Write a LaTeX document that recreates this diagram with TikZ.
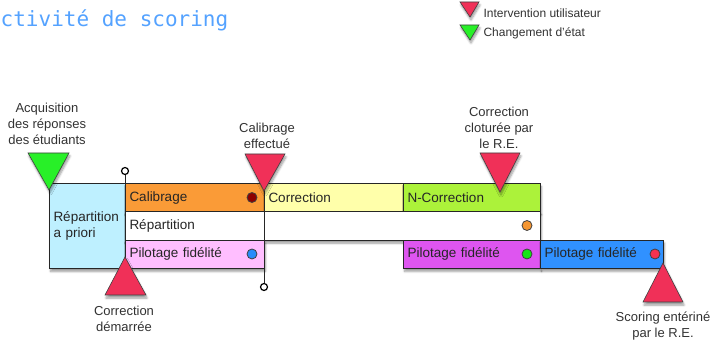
\documentclass[tikz,border=0pt]{standalone}
\usepackage{fontspec}
\setmainfont{Liberation Sans}
\newfontfamily\titlefont{DejaVu Sans Mono}
\usetikzlibrary{shadows.blur}
\definecolor{titleblue}{RGB}{84,162,255}
\definecolor{boxcyan}{RGB}{190,240,255}
\definecolor{calibor}{RGB}{250,155,55}
\definecolor{corryel}{RGB}{255,255,170}
\definecolor{ncorrgreen}{RGB}{172,242,58}
\definecolor{pilpink}{RGB}{255,190,255}
\definecolor{pilmag}{RGB}{222,85,240}
\definecolor{pilblue}{RGB}{48,145,255}
\definecolor{trired}{RGB}{240,48,88}
\definecolor{trigreen}{RGB}{40,240,40}
\definecolor{labgray}{RGB}{50,50,50}
\definecolor{dotred}{RGB}{140,0,0}
\definecolor{dotorange}{RGB}{245,150,50}
\definecolor{dotblue}{RGB}{40,140,250}
\definecolor{dotgreen}{RGB}{20,230,20}
\definecolor{dotpink}{RGB}{245,50,80}
\begin{document}
\begin{tikzpicture}[x=1pt,y=-1pt,
  shad/.style={blur shadow={shadow xshift=1pt, shadow yshift=-3pt, shadow blur steps=6, shadow opacity=40}},
  tbox/.style={draw=black!85, line width=1pt, inner xsep=4pt, inner ysep=0pt,
    minimum height=28.3pt, anchor=north west, align=left, text=black!85,
    font=\fontsize{13.5}{16}\selectfont, shad},
  tri/.style={draw=black!75, line width=0.6pt, shad},
  dot/.style={circle, draw=black!75, line width=0.8pt, inner sep=0pt, minimum size=10pt},
  endcirc/.style={circle, draw=black, line width=1.2pt, fill=white, inner sep=0pt, minimum size=7pt},
  lab/.style={align=center, text=labgray, font=\fontsize{13}{16}\selectfont},
  leg/.style={anchor=west, text=labgray, font=\fontsize{12}{14}\selectfont},
  vline/.style={draw=black!85, line width=1pt}]
\useasboundingbox (0,0) rectangle (713,344);

% title
\node[anchor=base west, inner sep=0pt, text=titleblue, font=\titlefont\fontsize{21}{24}\selectfont] (title) at (0.5,27) {ctivité de scoring};

% legend
\fill[trired, tri] (460,2) -- (479,2) -- (470,17) -- cycle;
\fill[trigreen, tri] (460,25) -- (479,25) -- (470,40) -- cycle;
\node[leg] (leg1) at (480,13) {Intervention utilisateur};
\node[leg] (leg2) at (480,33) {Changement d'état};

% connectors (behind boxes)
\node[endcirc] (c1) at (125,171) {};
\coordinate (c1b) at (125,183);
\draw[vline] (c1) -- (c1b);

% boxes
\node[tbox, fill=boxcyan, minimum height=85pt, text width=68pt] (rap) at (49,183) {Répartition\\a priori};
\node[tbox, fill=calibor, text width=131pt] (calib) at (125,183) {Calibrage};
\node[tbox, fill=corryel, text width=131pt] (corr) at (264,183) {Correction};
\node[tbox, fill=ncorrgreen, text width=129pt] (ncorr) at (403,183) {N-Correction};
\node[tbox, fill=white, text width=407pt] (rep) at (125,211.3) {Répartition};
\node[tbox, fill=pilpink, text width=131pt] (pil1) at (125,239.6) {Pilotage fidélité};
\node[tbox, fill=pilmag, text width=129pt] (pil2) at (403,239.6) {Pilotage fidélité};
\node[tbox, fill=pilblue, text width=115pt] (pil3) at (540,239.6) {Pilotage fidélité};

% dots
\node[dot, fill=dotred] (d1) at (252,197.5) {};
\node[dot, fill=dotorange] (d2) at (527,225.5) {};
\node[dot, fill=dotblue] (d3) at (252,254) {};
\node[dot, fill=dotgreen] (d4) at (527,254) {};
\node[dot, fill=dotpink] (d5) at (655,254) {};

% second connector
\coordinate (c2t) at (264,183);
\node[endcirc] (c2) at (264,287) {};
\draw[vline] (c2t) -- (c2);

% triangles
\fill[trigreen, tri] (28,153) -- (69,153) -- (49,190) -- cycle;
\fill[trired, tri] (245,154) -- (285,154) -- (264,191) -- cycle;
\fill[trired, tri] (480,153) -- (520,153) -- (500,192) -- cycle;
\fill[trired, tri] (125,257) -- (146,295) -- (105,295) -- cycle;
\fill[trired, tri] (663,263) -- (683,302) -- (643,302) -- cycle;

% labels
\node[lab] (l1) at (47,124) {Acquisition\\des réponses\\des étudiants};
\node[lab] (l2) at (267,135.5) {Calibrage\\effectué};
\node[lab] (l3) at (499,128) {Correction\\cloturée par\\le R.E.};
\node[lab] (l4) at (124,318.5) {Correction\\démarrée};
\node[lab] (l5) at (663,326.5) {Scoring entériné\\par le R.E.};
\end{tikzpicture}
\end{document}
